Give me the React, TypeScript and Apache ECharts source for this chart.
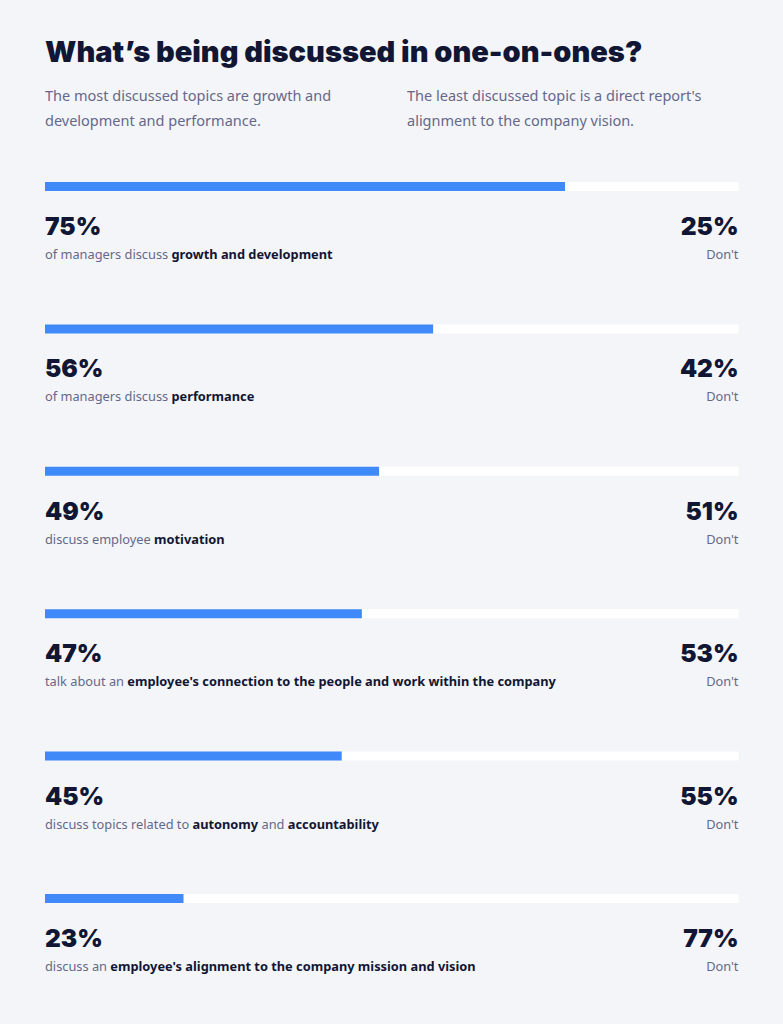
import React, { useEffect, useRef } from "react";
import * as echarts from "echarts";

const TITLE = "What’s being discussed in one-on-ones?";
const INTRO_LEFT = ["The most discussed topics are growth and", "development and performance."];
const INTRO_RIGHT = ["The least discussed topic is a direct report's", "alignment to the company vision."];

const topics = ["growth", "performance", "motivation", "connection", "autonomy", "alignment"];
const discussPct = [75, 56, 49, 47, 45, 23];
const dontPct = [25, 42, 51, 53, 55, 77];
// bar lengths as drawn in the reference (share of the track)
const barFill = [75, 56, 48.2, 45.7, 42.8, 20];
const captionParts: [string, string][][] = [
  [["plain", "of managers discuss "], ["bold", "growth and development"]],
  [["plain", "of managers discuss "], ["bold", "performance"]],
  [["plain", "discuss employee "], ["bold", "motivation"]],
  [["plain", "talk about an "], ["bold", "employee's connection to the people and work within the company"]],
  [["plain", "discuss topics related to "], ["bold", "autonomy"], ["plain", " and "], ["bold", "accountability"]],
  [["plain", "discuss an "], ["bold", "employee's alignment to the company mission and vision"]],
];

const BG = "#f4f5f8";
const NAVY = "#111634";
const GREY = "#65688a";
const BLUE = "#3f8af8";
const BODY_FONT = "'Noto Sans', 'Open Sans', sans-serif";
const HEAD_FONT = "Inter, 'Noto Sans', sans-serif";

export default function App() {
  const ref = useRef<HTMLDivElement>(null);
  useEffect(() => {
    if (!ref.current) return;
    const chart = echarts.init(ref.current, null, { renderer: "svg" });
    const rich = {
      pct: { fontFamily: HEAD_FONT, fontSize: 24.5, fontWeight: 900, color: NAVY, lineHeight: 36 },
      plain: { fontFamily: BODY_FONT, fontSize: 12.8, color: GREY, lineHeight: 20 },
      bold: { fontFamily: BODY_FONT, fontSize: 12.8, fontWeight: 700, color: NAVY, lineHeight: 20 },
    };
    chart.setOption({
      animation: false,
      backgroundColor: BG,
      grid: { left: 45, right: 44.5, top: 115.3, height: 854.4, containLabel: false },
      xAxis: { type: "value", min: 0, max: 100, show: false },
      yAxis: { type: "category", data: topics, inverse: true, show: false },
      graphic: [
        { type: "text", left: 45, top: 37, style: { text: TITLE, fontFamily: HEAD_FONT, fontSize: 29, fontWeight: 900, fill: NAVY, letterSpacing: 0.2 } },
        { type: "text", left: 45, top: 82, style: { text: INTRO_LEFT.join("\n"), fontFamily: BODY_FONT, fontSize: 14.5, lineHeight: 25, fill: GREY } },
        { type: "text", left: 407, top: 82, style: { text: INTRO_RIGHT.join("\n"), fontFamily: BODY_FONT, fontSize: 14.5, lineHeight: 25, fill: GREY } },
      ],
      series: [
        {
          type: "bar",
          stack: "t",
          barWidth: 9,
          data: barFill,
          itemStyle: { color: BLUE },
          label: {
            show: true,
            position: [0, 26],
            align: "left",
            verticalAlign: "top",
            formatter: (p: any) =>
              `{pct|${discussPct[p.dataIndex]}%}\n` +
              captionParts[p.dataIndex].map(([k, t]) => `{${k}|${t}}`).join(""),
            rich,
          },
        },
        {
          type: "bar",
          stack: "t",
          barWidth: 9,
          data: barFill.map((v) => 100 - v),
          itemStyle: { color: "#ffffff" },
          label: {
            show: true,
            position: ["100%", 26],
            align: "right",
            verticalAlign: "top",
            formatter: (p: any) => `{pct|${dontPct[p.dataIndex]}%}\n{plain|Don't}`,
            rich,
          },
        },
      ],
    });
    return () => chart.dispose();
  }, []);
  return <div ref={ref} style={{ position: "fixed", left: 0, top: 0, width: 783, height: 1024 }} />;
}
